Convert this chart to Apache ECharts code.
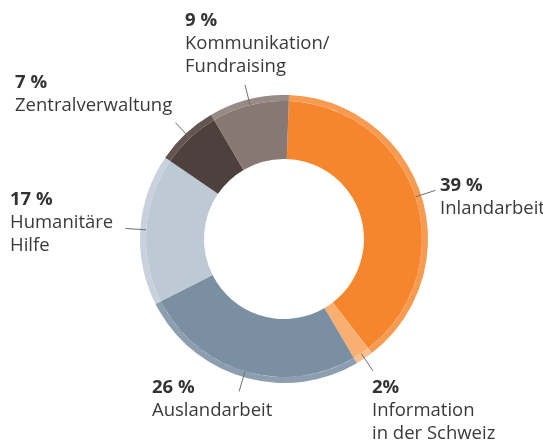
<!DOCTYPE html>
<html>
<head>
<meta charset="utf-8">
<script src="https://cdn.jsdelivr.net/npm/echarts@6/dist/echarts.min.js"></script>
<style>
  html, body { margin: 0; padding: 0; background: #fff; }
  #chart { width: 543px; height: 443px; }
</style>
</head>
<body>
<div id="chart"></div>
<script>
// Anteile in Prozent, im Uhrzeigersinn ab 12 Uhr
var categories = ['Inlandarbeit', 'Information\nin der Schweiz', 'Auslandarbeit', 'Humanitäre\nHilfe', 'Zentralverwaltung', 'Kommunikation/\nFundraising'];
var values = [39, 2, 26, 17, 7, 9];
var pctLabels = ['39 %', '2%', '26 %', '17 %', '7 %', '9 %'];

// Farben: Hauptring und heller Aussenrand
var mainColors = ['#f5862e', '#f9ae72', '#7a8fa1', '#bdc9d5', '#4e403c', '#877874'];
var rimColors = ['#f79b50', '#fbc08e', '#8c9eaf', '#c9d2dc', '#63554f', '#988a86'];

// linke obere Ecke der Beschriftungen
var labelPos = [[440, 174], [372, 376], [152, 376], [10, 188], [15, 71], [185, 9]];

var myChart = echarts.init(document.getElementById('chart'));

var mainData = values.map(function (v, i) {
    return { name: categories[i], value: v, itemStyle: { color: mainColors[i] } };
});
var rimData = values.map(function (v, i) {
    return { name: categories[i], value: v, itemStyle: { color: rimColors[i] } };
});

var option = {
    animation: false,
    textStyle: { fontFamily: '"Open Sans", sans-serif' },
    series: [
        {
            type: 'pie',
            z: 2,
            center: [284, 239],
            radius: [138, 144],
            startAngle: 88,
            clockwise: true,
            silent: true,
            label: { show: false },
            labelLine: { show: false },
            data: rimData
        },
        {
            type: 'pie',
            z: 3,
            center: [284, 239],
            radius: [80, 138],
            startAngle: 88,
            clockwise: true,
            silent: true,
            avoidLabelOverlap: false,
            label: {
                show: true,
                position: 'outside',
                color: '#3a3a3a',
                formatter: function (p) {
                    return '{v|' + pctLabels[p.dataIndex] + '}\n{n|' + p.name + '}';
                },
                rich: {
                    v: { fontSize: 18.5, fontWeight: 'bold', lineHeight: 23, color: '#333', fontFamily: '"Open Sans", sans-serif' },
                    n: { fontSize: 18.5, lineHeight: 23, color: '#3a3a3a', fontFamily: '"Open Sans", sans-serif' }
                }
            },
            labelLine: {
                show: true,
                length: 21,
                length2: 0,
                smooth: false,
                lineStyle: { color: '#6e6e6e', width: 1 }
            },
            labelLayout: function (params) {
                var pos = labelPos[params.dataIndex];
                return {
                    x: pos[0],
                    y: pos[1],
                    align: 'left',
                    verticalAlign: 'top',
                    labelLinePoints: params.labelLinePoints
                };
            },
            data: mainData
        }
    ]
};

myChart.setOption(option);
window.addEventListener('resize', function () {
    myChart.resize();
});
</script>
</body>
</html>
